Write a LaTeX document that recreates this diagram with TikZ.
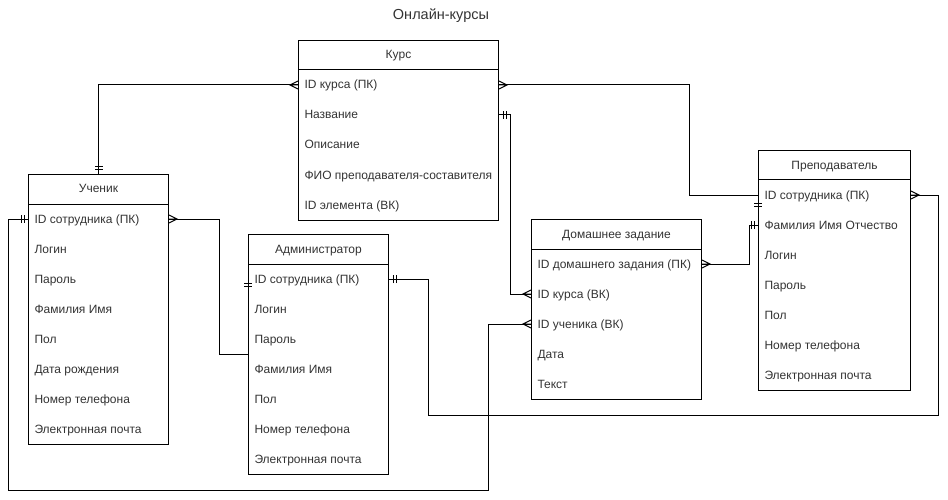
\documentclass[tikz,border=0pt]{standalone}
\usepackage{fontspec}
\setmainfont{Liberation Sans}
\tikzset{
  ent/.style={draw, anchor=north west, inner sep=0pt},
  hdr/.style={inner sep=0pt, text height=10pt, text depth=2pt, font=\fontsize{12}{14}\selectfont, text=black!80},
  fld/.style={anchor=west, inner sep=0pt, text height=10pt, text depth=2pt, font=\fontsize{12}{14}\selectfont, text=black!80},
  crow/.pic={\draw (0,4)--(8,0)--(0,-4) (0,0)--(8,0);},
  onebar/.pic={\draw (4,4)--(4,-4) (7,4)--(7,-4);}
}
\begin{document}
\begin{tikzpicture}[x=1pt, y=-1pt, line width=1pt]
    \useasboundingbox (0,0) rectangle (948,500);
    \node[font=\fontsize{14.5}{16}\selectfont, text=black!80] (title) at (441,16) {Онлайн-курсы};
    % tables
    \node[ent, minimum width=200pt, minimum height=180pt] (kurs) at (298,40) {};
    \node[hdr] at ([yshift=-15pt]kurs.north) {Курс};
    \draw ([yshift=-30pt]kurs.north west) -- ([yshift=-30pt]kurs.north east);
    \foreach \f [count=\i] in {{ID курса (ПК)},{Название},{Описание},{ФИО преподавателя-составителя},{ID элемента (ВК)}}
        \node[fld] (kurs-\i) at ([xshift=6pt, yshift={-15pt-30pt*\i}]kurs.north west) {\f};
    \node[ent, minimum width=140pt, minimum height=270pt] (uch) at (28,174) {};
    \node[hdr] at ([yshift=-15pt]uch.north) {Ученик};
    \draw ([yshift=-30pt]uch.north west) -- ([yshift=-30pt]uch.north east);
    \foreach \f [count=\i] in {{ID сотрудника (ПК)},{Логин},{Пароль},{Фамилия Имя},{Пол},{Дата рождения},{Номер телефона},{Электронная почта}}
        \node[fld] (uch-\i) at ([xshift=6pt, yshift={-15pt-30pt*\i}]uch.north west) {\f};
    \node[ent, minimum width=140pt, minimum height=240pt] (adm) at (248,234) {};
    \node[hdr] at ([yshift=-15pt]adm.north) {Администратор};
    \draw ([yshift=-30pt]adm.north west) -- ([yshift=-30pt]adm.north east);
    \foreach \f [count=\i] in {{ID сотрудника (ПК)},{Логин},{Пароль},{Фамилия Имя},{Пол},{Номер телефона},{Электронная почта}}
        \node[fld] (adm-\i) at ([xshift=6pt, yshift={-15pt-30pt*\i}]adm.north west) {\f};
    \node[ent, minimum width=170pt, minimum height=180pt] (dz) at (531,219) {};
    \node[hdr] at ([yshift=-15pt]dz.north) {Домашнее задание};
    \draw ([yshift=-30pt]dz.north west) -- ([yshift=-30pt]dz.north east);
    \foreach \f [count=\i] in {{ID домашнего задания (ПК)},{ID курса (ВК)},{ID ученика (ВК)},{Дата},{Текст}}
        \node[fld] (dz-\i) at ([xshift=6pt, yshift={-15pt-30pt*\i}]dz.north west) {\f};
    \node[ent, minimum width=152pt, minimum height=240pt] (prep) at (758,150) {};
    \node[hdr] at ([yshift=-15pt]prep.north) {Преподаватель};
    \draw ([yshift=-30pt]prep.north west) -- ([yshift=-30pt]prep.north east);
    \foreach \f [count=\i] in {{ID сотрудника (ПК)},{Фамилия Имя Отчество},{Логин},{Пароль},{Пол},{Номер телефона},{Электронная почта}}
        \node[fld] (prep-\i) at ([xshift=6pt, yshift={-15pt-30pt*\i}]prep.north west) {\f};
    % relations
    \coordinate (loopA) at (428,415);
    \coordinate (loopB) at (8,490);
    \draw (uch.north) |- (kurs.west |- kurs-1);
    \draw (kurs.east |- kurs-1) -- ++(190,0) |- (prep.west |- prep-1);
    \draw (kurs.east |- kurs-2) -- ++(11,0) |- (dz.west |- dz-2);
    \draw (dz.east |- dz-1) -- ++(47,0) |- (prep.west |- prep-2);
    \draw (prep.east |- prep-1) -- ++(27,0) |- (loopA) |- (adm.east |- adm-1);
    \draw (dz.west |- dz-3) -- ++(-43,0) |- (loopB) |- (uch.west |- uch-1);
    \draw (uch.east |- uch-1) -- ++(50,0) |- (adm.west);
    % ends
    \pic[rotate=90] at (uch.north) {onebar};
    \pic[rotate=180] at (kurs.west |- kurs-1) {crow};
    \pic at (kurs.east |- kurs-1) {crow};
    \pic at (kurs.east |- kurs-2) {onebar};
    \pic[rotate=180] at (dz.west |- dz-2) {crow};
    \pic at (dz.east |- dz-1) {crow};
    \pic[rotate=180] at (prep.west |- prep-2) {onebar};
    \pic at (prep.east |- prep-1) {crow};
    \pic at (adm.east |- adm-1) {onebar};
    \pic[rotate=180] at (dz.west |- dz-3) {crow};
    \pic[rotate=180] at (uch.west |- uch-1) {onebar};
    \pic at (uch.east |- uch-1) {crow};
    \pic[rotate=-90] at (adm.west |- adm-1) {onebar};
    \pic[rotate=-90, xshift=4pt] at (prep.west |- prep-1) {onebar};
\end{tikzpicture}
\end{document}
